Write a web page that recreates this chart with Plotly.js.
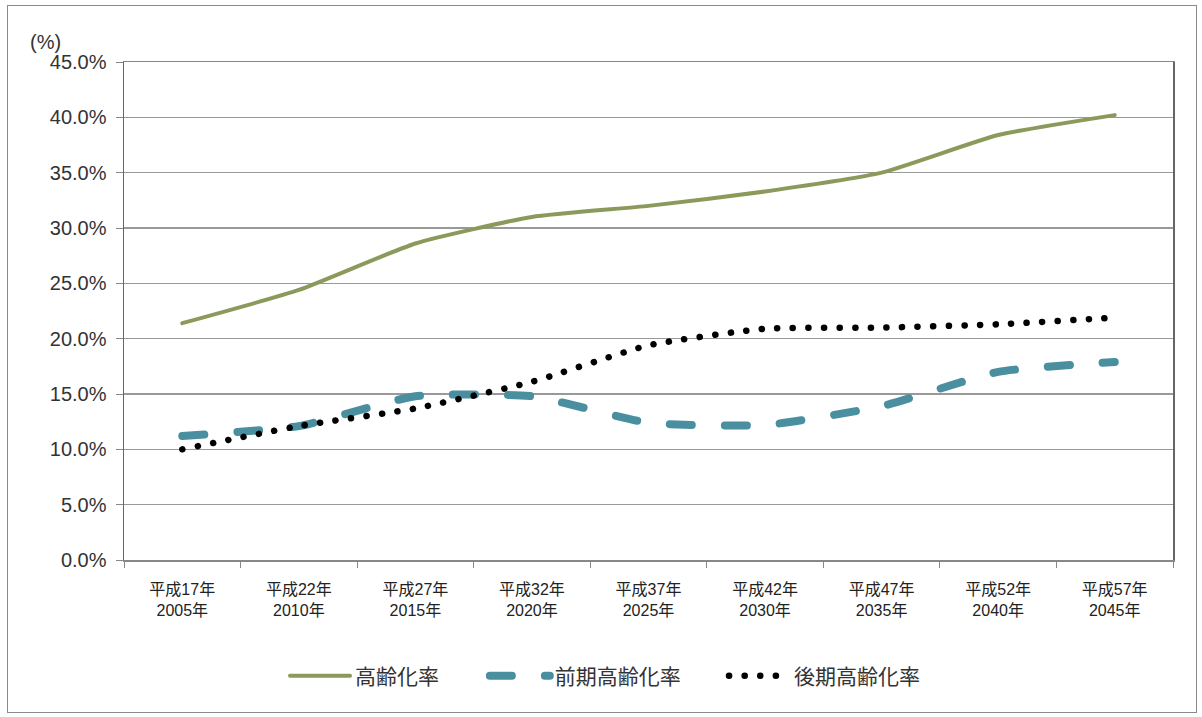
<!DOCTYPE html>
<html>
<head>
<meta charset="utf-8">
<script src="https://cdn.plot.ly/plotly-3.0.1.min.js"></script>
<style>
  html, body { margin: 0; padding: 0; background: #fff; }
  #wrap { position: relative; width: 1202px; height: 717px; }
  #chart { position: absolute; left: 0; top: 0; width: 1202px; height: 717px; }
  #frame { position: absolute; left: 7px; top: 5px; width: 1188px; height: 706px; border: 1px solid #8a8a8a; pointer-events: none; }
  path.js-line { stroke-linecap: round; }
</style>
</head>
<body>
<div id="wrap">
  <div id="chart"></div>
  <div id="frame"></div>
</div>
<script>
// Categories (x-axis tick labels)
const categories = [
  "平成17年<br>2005年", "平成22年<br>2010年", "平成27年<br>2015年",
  "平成32年<br>2020年", "平成37年<br>2025年", "平成42年<br>2030年",
  "平成47年<br>2035年", "平成52年<br>2040年", "平成57年<br>2045年"
];
// Series values (%)
const agingRate      = [21.4, 24.4, 28.6, 31.0, 32.0, 33.3, 35.0, 38.4, 40.2]; // 高齢化率
const earlyAgingRate = [11.2, 12.1, 14.8, 14.8, 12.4, 12.2, 13.9, 17.0, 17.9]; // 前期高齢化率
const lateAgingRate  = [10.0, 12.1, 13.7, 16.1, 19.4, 20.9, 21.0, 21.3, 21.9]; // 後期高齢化率
const seriesNames = ["高齢化率", "前期高齢化率", "後期高齢化率"];

const FONT = "Liberation Sans, Noto Sans CJK JP, sans-serif";

const traces = [
  {
    x: categories, y: agingRate, name: seriesNames[0], type: "scatter", mode: "lines",
    legend: "legend",
    line: { color: "#8b9a5b", width: 4, shape: "spline", smoothing: 0.5 }
  },
  {
    x: categories, y: earlyAgingRate, name: seriesNames[1], type: "scatter", mode: "lines",
    legend: "legend2",
    line: { color: "#4a8fa0", width: 8, dash: "22px,33px", shape: "spline", smoothing: 0.5 }
  },
  {
    x: categories, y: lateAgingRate, name: seriesNames[2], type: "scatter", mode: "lines",
    legend: "legend3",
    line: { color: "#000000", width: 6.5, dash: "0.1px,15.5px", shape: "spline", smoothing: 0.5 }
  }
];

function legendAt(x) {
  return {
    orientation: "h", x: x, xanchor: "left", y: -0.233, yanchor: "middle",
    font: { family: FONT, size: 21, color: "#333333" },
    itemwidth: 60, bgcolor: "rgba(0,0,0,0)", borderwidth: 0
  };
}

const layout = {
  width: 1202, height: 717,
  margin: { l: 124, r: 29, t: 62, b: 157, pad: 0 },
  paper_bgcolor: "rgba(0,0,0,0)",
  plot_bgcolor: "#ffffff",
  font: { family: FONT, color: "#333333" },
  showlegend: true,
  legend: legendAt(0.1535),
  legend2: legendAt(0.344),
  legend3: legendAt(0.572),
  xaxis: {
    type: "category",
    range: [-0.5, 8.5],
    tickson: "boundaries",
    ticks: "outside", ticklen: 6, tickcolor: "#888888",
    ticklabelstandoff: 14,
    showline: true, linecolor: "#888888", linewidth: 1.5, mirror: true,
    showgrid: false,
    tickfont: { family: FONT, size: 16, color: "#222222" },
    fixedrange: true
  },
  yaxis: {
    range: [0, 45], dtick: 5, tick0: 0,
    tickformat: ".1f", ticksuffix: "%",
    ticks: "outside", ticklen: 7, tickcolor: "#888888",
    ticklabelstandoff: 5,
    showline: true, linecolor: "#666666", linewidth: 1.5, mirror: true,
    showgrid: true, gridcolor: "#999999", gridwidth: 1.5,
    zeroline: false,
    tickfont: { family: FONT, size: 20, color: "#333333" },
    fixedrange: true
  },
  annotations: [
    {
      text: "(%)", xref: "paper", yref: "paper", x: -0.0915, y: 1.014,
      xanchor: "left", yanchor: "bottom", showarrow: false,
      font: { family: FONT, size: 20, color: "#333333" }
    }
  ]
};

Plotly.newPlot("chart", traces, layout, { displayModeBar: false, staticPlot: true });
</script>
</body>
</html>
